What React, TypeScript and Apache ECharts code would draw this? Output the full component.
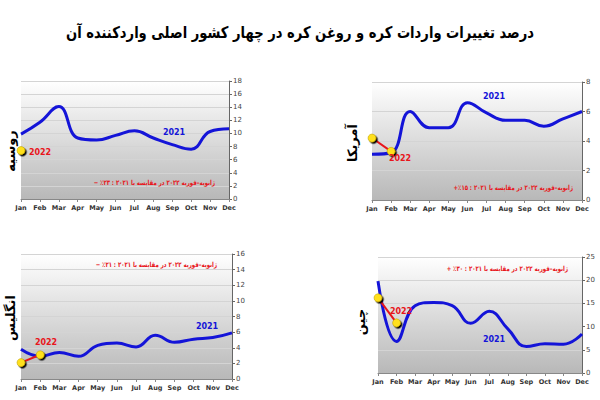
import React, { useEffect, useRef } from "react";
import * as echarts from "echarts";

const months = ["Jan", "Feb", "Mar", "Apr", "May", "Jun", "Jul", "Aug", "Sep", "Oct", "Nov", "Dec"];

const russia2021 = [9.9, 11.7, 14.1, 9.3, 9.0, 9.7, 10.4, 9.3, 8.3, 7.6, 10.3, 10.7];
const russia2022 = [7.4];
const usa2021 = [3.1, 3.2, 6.0, 4.9, 4.9, 6.6, 5.9, 5.4, 5.4, 5.0, 5.5, 6.0];
const usa2022 = [4.2, 3.3];
const uk2021 = [3.8, 2.9, 3.4, 2.9, 4.3, 4.6, 4.1, 5.6, 4.7, 5.1, 5.3, 5.9];
const uk2022 = [2.1, 3.1];
const china2021 = [19.8, 6.8, 14.5, 15.2, 14.5, 10.7, 13.3, 9.5, 5.7, 6.3, 6.2, 8.4];
const china2022 = [16.2, 10.8];

const yMax = [18, 8, 16, 25];
const yInterval = [2, 2, 2, 5];

const countryNames = ["روسیه", "آمریکا", "انگلیس", "چین"];
const notes = [
  "ژانویه–فوریه ۲۰۲۲ در مقایسه با ۲۰۲۱ : ۲۳٪ −",
  "ژانویه–فوریه ۲۰۲۲ در مقایسه با ۲۰۲۱ : ۱۵٪+",
  "ژانویه–فوریه ۲۰۲۲ در مقایسه با ۲۰۲۱ : ۲۱٪ −",
  "ژانویه–فوریه ۲۰۲۲ در مقایسه با ۲۰۲۱ : ۳۰٪ +",
];
const title = "درصد تغییرات واردات کره و روغن کره در چهار کشور اصلی واردکننده آن";

const FONT = "DejaVu Sans";

export default function App() {
  const ref = useRef<HTMLDivElement>(null);
  useEffect(() => {
    if (!ref.current) return;
    const chart = echarts.init(ref.current, null, { renderer: "svg" });

    const grids = [
      { left: 21, right: 371, top: 81, bottom: 201 },
      { left: 372, right: 18, top: 82, bottom: 200 },
      { left: 21, right: 368, top: 254, bottom: 21 },
      { left: 378, right: 18, top: 257, bottom: 27 },
    ];
    const bg = {
      type: "linear", x: 0, y: 0, x2: 0, y2: 1,
      colorStops: [
        { offset: 0, color: "#ffffff" },
        { offset: 1, color: "#b8b8b8" },
      ],
    };

    const series2021 = [russia2021, usa2021, uk2021, china2021];
    const series2022 = [russia2022, usa2022, uk2022, china2022];

    const series: any[] = [];
    for (let i = 0; i < 4; i++) {
      series.push({
        type: "line",
        xAxisIndex: i,
        yAxisIndex: i,
        data: series2021[i],
        smooth: 0.45,
        showSymbol: false,
        lineStyle: { color: "#1414d8", width: 3 },
        z: 3,
      });
      series.push({
        type: "line",
        xAxisIndex: i,
        yAxisIndex: i,
        data: series2022[i],
        symbol: "circle",
        symbolSize: 8,
        showSymbol: true,
        lineStyle: { color: "#e8151b", width: 2 },
        itemStyle: {
          color: "#ffe01a",
          borderColor: "#b89a00",
          borderWidth: 0.5,
          shadowColor: "#000000",
          shadowOffsetX: 1.5,
          shadowOffsetY: 1.5,
          shadowBlur: 0,
        },
        z: 4,
      });
    }

    const labelText = (x: number, y: number, text: string, color: string) => ({
      type: "text",
      x, y,
      style: { text, fill: color, font: `bold 8px ${FONT}`, textAlign: "center", textVerticalAlign: "middle" },
      z: 10,
    });
    const noteText = (x: number, y: number, text: string) => ({
      type: "text",
      x, y,
      scaleX: 0.77,
      style: {
        text: "\u202B" + text + "\u202C",
        fill: "#e8151b",
        font: `bold 7px ${FONT}`,
        textAlign: "right",
        textVerticalAlign: "middle",
      },
      z: 10,
    });
    const nameText = (x: number, y: number, text: string) => ({
      type: "text",
      x, y,
      rotation: Math.PI / 2,
      style: { text, fill: "#000", font: `bold 13px ${FONT}`, textAlign: "center", textVerticalAlign: "middle" },
      z: 10,
    });

    const option: any = {
      animation: false,
      backgroundColor: "#ffffff",
      grid: grids.map((g) => ({ ...g, show: true, backgroundColor: bg, borderWidth: 0 })),
      xAxis: grids.map((_, i) => ({
        type: "category",
        gridIndex: i,
        data: months,
        boundaryGap: false,
        axisLine: { lineStyle: { color: "#888" } },
        axisTick: { show: true, lineStyle: { color: "#888" }, length: 3 },
        axisLabel: { interval: 0, fontSize: 6.5, fontWeight: "bold", color: "#333", fontFamily: FONT, margin: 5 },
        splitLine: { show: false },
      })),
      yAxis: grids.map((_, i) => ({
        type: "value",
        gridIndex: i,
        position: "right",
        min: 0,
        max: yMax[i],
        interval: yInterval[i],
        axisLine: { show: true, lineStyle: { color: "#666" } },
        axisTick: { show: true, length: 3, lineStyle: { color: "#666" } },
        axisLabel: { fontSize: 7, color: "#444", fontFamily: FONT, margin: 4 },
        splitLine: { show: true, lineStyle: { color: "#d4d4d4", width: 1 } },
      })),
      series,
      graphic: [
        {
          type: "text",
          x: 300,
          y: 32,
          scaleX: 0.82,
          style: { text: "\u202B" + title + "\u202C", fill: "#000", font: `bold 16px ${FONT}`, textAlign: "center", textVerticalAlign: "middle" },
        },
        nameText(10, 151, countryNames[0]),
        nameText(352, 143, countryNames[1]),
        nameText(10, 318, countryNames[2]),
        nameText(360, 322, countryNames[3]),
        labelText(174, 132, "2021", "#1414d8"),
        labelText(40, 152, "2022", "#e8151b"),
        labelText(494, 96, "2021", "#1414d8"),
        labelText(400, 158, "2022", "#e8151b"),
        labelText(207, 326, "2021", "#1414d8"),
        labelText(46, 342, "2022", "#e8151b"),
        labelText(494, 339, "2021", "#1414d8"),
        labelText(401, 311, "2022", "#e8151b"),
        noteText(215, 182, notes[0]),
        noteText(573, 187, notes[1]),
        noteText(217, 264, notes[2]),
        noteText(568, 268, notes[3]),
      ],
    };
    chart.setOption(option);
    return () => chart.dispose();
  }, []);
  return <div ref={ref} style={{ position: "absolute", left: 0, top: 0, width: 600, height: 400 }} />;
}
